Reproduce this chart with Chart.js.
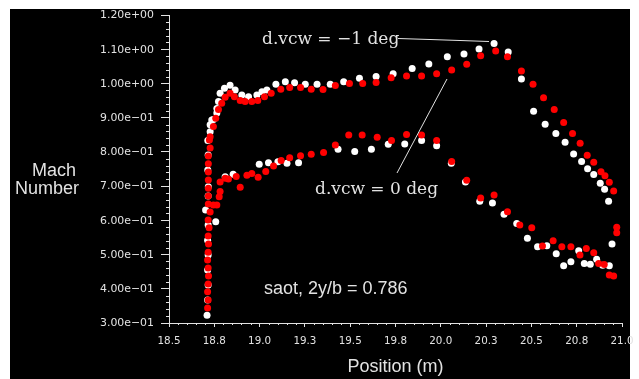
<!DOCTYPE html>
<html>
<head>
<meta charset="utf-8">
<script src="https://cdn.jsdelivr.net/npm/chart.js@4.4.1/dist/chart.umd.min.js"></script>
<style>
  html, body { margin: 0; padding: 0; background: #fff; }
  #machChart { display: block; }
</style>
</head>
<body>
<canvas id="machChart" width="639" height="379"></canvas>
<script>
// d.vcw = -1 deg (white), position (m) and Mach number
const posNeg1 = [18.710, 18.713, 18.716, 18.713, 18.716, 18.713, 18.716, 18.702, 18.716, 18.717,
    18.714, 18.716, 18.714, 18.727, 18.727, 18.736, 18.745, 18.764, 18.764, 18.773,
    18.782, 18.806, 18.837, 18.865, 18.902, 18.939, 18.985, 19.013, 19.040, 19.090,
    19.142, 19.193, 19.252, 19.317, 19.390, 19.464, 19.551, 19.643, 19.737, 19.842,
    19.934, 20.036, 20.128, 20.211, 20.294, 20.372, 20.445, 20.512, 20.576, 20.635,
    20.686, 20.733, 20.777, 20.810, 20.844, 20.880, 20.904, 20.926, 20.945, 20.930,
    20.893, 20.860, 20.825, 20.792, 20.761, 20.718, 20.678, 20.637, 20.585, 20.534,
    20.478, 20.419, 20.349, 20.285, 20.215, 20.136, 20.058, 19.977, 19.894, 19.801,
    19.710, 19.617, 19.525, 19.433, 19.215, 19.151, 19.101, 19.049, 18.998, 18.854,
    18.810, 18.758];
const machNeg1 = [0.323, 0.367, 0.411, 0.455, 0.499, 0.542, 0.586, 0.630, 0.671, 0.698,
    0.747, 0.791, 0.833, 0.859, 0.879, 0.893, 0.895, 0.914, 0.927, 0.947,
    0.971, 0.986, 0.995, 0.981, 0.966, 0.961, 0.966, 0.976, 0.981, 0.998,
    1.005, 1.002, 0.998, 0.998, 0.998, 1.005, 1.015, 1.020, 1.028, 1.044,
    1.057, 1.078, 1.086, 1.101, 1.117, 1.092, 1.013, 0.919, 0.881, 0.854,
    0.828, 0.794, 0.772, 0.751, 0.734, 0.708, 0.691, 0.656, 0.531, 0.467,
    0.469, 0.486, 0.472, 0.474, 0.511, 0.479, 0.467, 0.502, 0.526, 0.523,
    0.548, 0.591, 0.618, 0.651, 0.656, 0.712, 0.767, 0.818, 0.833, 0.823,
    0.822, 0.808, 0.801, 0.808, 0.768, 0.767, 0.771, 0.768, 0.764, 0.735,
    0.727, 0.596];

// d.vcw = 0 deg (red)
const pos0 = [18.713, 18.716, 18.713, 18.716, 18.718, 18.716, 18.713, 18.716, 18.718, 18.716,
    18.721, 18.716, 18.727, 18.717, 18.745, 18.764, 18.717, 18.717, 18.717, 18.717,
    18.717, 18.717, 18.727, 18.723, 18.727, 18.745, 18.758, 18.773, 18.791, 18.810,
    18.837, 18.861, 18.893, 18.920, 18.957, 18.990, 19.027, 19.064, 19.117, 19.166,
    19.226, 19.285, 19.350, 19.418, 19.496, 19.569, 19.643, 19.726, 19.811, 19.894,
    19.977, 20.060, 20.143, 20.220, 20.303, 20.368, 20.445, 20.509, 20.567, 20.626,
    20.678, 20.727, 20.769, 20.808, 20.844, 20.884, 20.906, 20.930, 20.954, 20.971,
    20.971, 20.954, 20.930, 20.902, 20.871, 20.844, 20.803, 20.768, 20.718, 20.668,
    20.620, 20.561, 20.502, 20.436, 20.368, 20.294, 20.220, 20.143, 20.060, 19.977,
    19.894, 19.811, 19.728, 19.649, 19.566, 19.492, 19.418, 19.353, 19.285, 19.226,
    19.166, 19.119, 19.077, 19.034, 18.992, 18.957, 18.930, 18.893, 18.871, 18.828,
    18.810, 18.782, 18.782, 18.777];
const mach0 = [0.344, 0.367, 0.391, 0.414, 0.437, 0.461, 0.484, 0.507, 0.531, 0.554,
    0.578, 0.601, 0.624, 0.648, 0.645, 0.645, 0.671, 0.694, 0.718, 0.741,
    0.765, 0.788, 0.811, 0.835, 0.844, 0.874, 0.898, 0.924, 0.942, 0.960,
    0.971, 0.961, 0.950, 0.947, 0.947, 0.950, 0.961, 0.971, 0.983, 0.988,
    0.988, 0.983, 0.982, 0.994, 1.000, 1.000, 1.003, 1.017, 1.022, 1.022,
    1.028, 1.039, 1.056, 1.081, 1.095, 1.078, 1.036, 0.998, 0.958, 0.924,
    0.886, 0.854, 0.825, 0.790, 0.770, 0.742, 0.730, 0.711, 0.686, 0.580,
    0.564, 0.437, 0.440, 0.471, 0.474, 0.505, 0.518, 0.499, 0.523, 0.523,
    0.540, 0.525, 0.578, 0.586, 0.625, 0.674, 0.665, 0.717, 0.772, 0.833,
    0.849, 0.851, 0.833, 0.843, 0.849, 0.849, 0.820, 0.798, 0.793, 0.789,
    0.783, 0.775, 0.759, 0.743, 0.726, 0.737, 0.732, 0.697, 0.728, 0.721,
    0.723, 0.712, 0.684, 0.669];

// axis ranges
const xRange = [18.5, 21];
const yRange = [0.3, 1.2];

const toPoints = (xs, ys) => xs.map((x, i) => ({ x: x, y: ys[i] }));

const fg = '#e2e2e2';
const tickFont = '11px "DejaVu Sans", sans-serif';

function expLabel(v) {
    const parts = v.toExponential(2).split('e');
    const n = parseInt(parts[1], 10);
    return parts[0] + 'e' + (n < 0 ? '\u2212' : '+') + String(Math.abs(n)).padStart(2, '0');
}

// draw text stretched sideways so that it is `width` px wide; align 'right' or 'center'
function wideText(ctx, txt, x, y, width, align) {
    const w = ctx.measureText(txt).width || 1;
    const sx = width / w;
    ctx.save();
    ctx.translate(x, y);
    ctx.scale(sx, 1);
    ctx.textAlign = align;
    ctx.fillText(txt, 0, 0);
    ctx.restore();
}

// white page with black panel behind the chart
const backdrop = {
    id: 'backdrop',
    beforeDraw(chart) {
        const ctx = chart.ctx;
        ctx.save();
        ctx.fillStyle = '#ffffff';
        ctx.fillRect(0, 0, chart.width, chart.height);
        ctx.fillStyle = '#000000';
        ctx.fillRect(10, 9, 620, chart.height - 9);
        ctx.restore();
    }
};

// tick labels, minor ticks, titles and notes
const extras = {
    id: 'extras',
    afterDraw(chart) {
        const ctx = chart.ctx;
        const xs = chart.scales.x, ys = chart.scales.y;
        const area = chart.chartArea;
        ctx.save();
        ctx.strokeStyle = fg;
        ctx.lineWidth = 1;
        ctx.beginPath();
        for (let i = 15; i <= 60; i++) {
            if (i % 5 === 0) continue;
            const py = Math.round(ys.getPixelForValue(i / 50)) + 0.5;
            ctx.moveTo(area.left - 3, py);
            ctx.lineTo(area.left, py);
        }
        for (let i = 0; i <= 50; i++) {
            if (i % 5 === 0) continue;
            const px = Math.round(xs.getPixelForValue(18.5 + i * 0.05)) + 0.5;
            ctx.moveTo(px, area.bottom);
            ctx.lineTo(px, area.bottom + 2);
        }
        ctx.stroke();

        ctx.fillStyle = fg;
        ctx.font = tickFont;
        ctx.textBaseline = 'middle';

        // y labels: "1.20e+00" is about 54 px wide in the picture
        const yScaleW = 54 / (ctx.measureText('1.20e+00').width || 54);
        ys.ticks.forEach(t => {
            const s = expLabel(t.value);
            wideText(ctx, s, area.left - 15, ys.getPixelForValue(t.value) + 0.5,
                ctx.measureText(s).width * yScaleW, 'right');
        });

        // x labels: "18.5" is about 23 px wide
        const xScaleW = 23 / (ctx.measureText('18.5').width || 23);
        xs.ticks.forEach(t => {
            const s = t.value.toFixed(1);
            wideText(ctx, s, xs.getPixelForValue(t.value), 341.5,
                ctx.measureText(s).width * xScaleW, 'center');
        });

        ctx.textAlign = 'center';
        ctx.textBaseline = 'alphabetic';
        ctx.font = '18px "Liberation Sans", Arial, sans-serif';
        ctx.fillText('Mach', 54, 176);
        ctx.fillText('Number', 47, 194);
        ctx.fillText('Position (m)', (area.left + area.right) / 2, 372);

        ctx.textAlign = 'left';
        ctx.fillText('saot, 2y/b = 0.786', 264, 294);

        ctx.font = '17px "DejaVu Serif", serif';
        ctx.fillText('d.vcw = \u22121 deg', 262, 44);
        ctx.fillText('d.vcw = 0 deg', 315, 194);

        ctx.beginPath();
        ctx.moveTo(398, 38.5);
        ctx.lineTo(430, 39.5);
        ctx.lineTo(460, 40.5);
        ctx.lineTo(489, 41.5);
        ctx.moveTo(397, 173);
        ctx.lineTo(447, 79);
        ctx.stroke();
        ctx.restore();
    }
};

new Chart(document.getElementById('machChart'), {
    type: 'scatter',
    data: {
        datasets: [
            {
                label: 'd.vcw = 0 deg',
                data: toPoints(pos0, mach0),
                backgroundColor: '#ff0000',
                borderWidth: 0,
                pointRadius: 3.5,
                order: 0
            },
            {
                label: 'd.vcw = -1 deg',
                data: toPoints(posNeg1, machNeg1),
                backgroundColor: '#ffffff',
                borderWidth: 0,
                pointRadius: 3.5,
                order: 1
            }
        ]
    },
    options: {
        responsive: false,
        animation: false,
        layout: { padding: { left: 0, right: 17, top: 15, bottom: 0 } },
        plugins: {
            legend: { display: false },
            tooltip: { enabled: false }
        },
        scales: {
            x: {
                type: 'linear',
                min: xRange[0],
                max: xRange[1],
                afterFit(scale) { scale.height = 56; },
                border: { color: fg, width: 1 },
                grid: { drawOnChartArea: false, color: fg, tickLength: 4 },
                ticks: { stepSize: 0.25, autoSkip: false, maxRotation: 0, display: false }
            },
            y: {
                type: 'linear',
                min: yRange[0],
                max: yRange[1],
                afterFit(scale) { scale.width = 169; },
                border: { color: fg, width: 1 },
                grid: { drawOnChartArea: false, color: fg, tickLength: 8 },
                ticks: { stepSize: 0.1, display: false }
            }
        }
    },
    plugins: [backdrop, extras]
});
</script>
</body>
</html>
